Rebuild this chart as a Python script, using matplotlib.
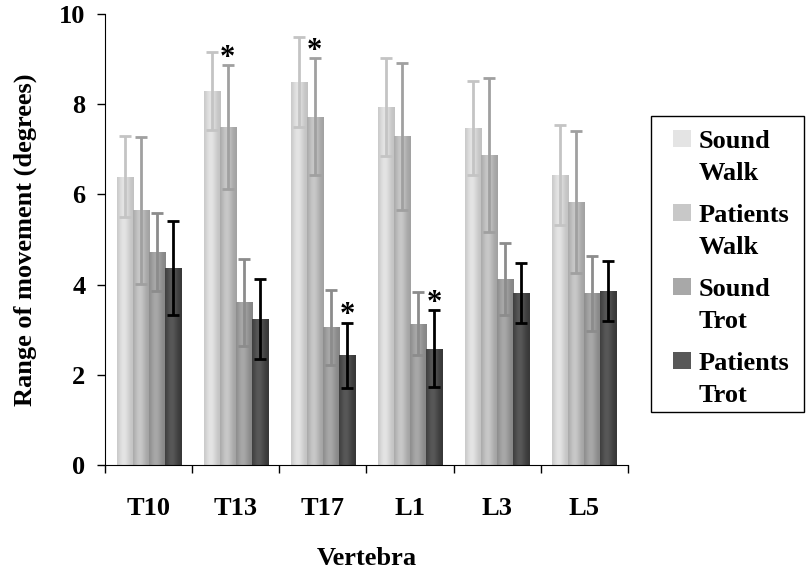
import numpy as np
import matplotlib
matplotlib.use('Agg')
import matplotlib.pyplot as plt
from matplotlib.patches import Rectangle
from matplotlib.colors import LinearSegmentedColormap

vertebrae = ['T10', 'T13', 'T17', 'L1', 'L3', 'L5']
series = ['Sound\nWalk', 'Patients\nWalk', 'Sound\nTrot', 'Patients\nTrot']

sound_walk = [6.39, 8.29, 8.49, 7.94, 7.47, 6.43]
sound_walk_err = [0.90, 0.87, 1.00, 1.08, 1.05, 1.10]
patients_walk = [5.65, 7.49, 7.72, 7.29, 6.87, 5.83]
patients_walk_err = [1.63, 1.37, 1.30, 1.63, 1.70, 1.57]
sound_trot = [4.72, 3.61, 3.06, 3.13, 4.12, 3.81]
sound_trot_err = [0.87, 0.96, 0.83, 0.70, 0.80, 0.83]
patients_trot = [4.37, 3.24, 2.44, 2.58, 3.81, 3.86]
patients_trot_err = [1.05, 0.88, 0.72, 0.85, 0.67, 0.66]

# (series index, vertebra index) with a significance star
stars = [(1, 1), (1, 2), (3, 2), (3, 3)]

values = [sound_walk, patients_walk, sound_trot, patients_trot]
errors = [sound_walk_err, patients_walk_err, sound_trot_err, patients_trot_err]
# bar gradient: (edge colour, centre colour), error bar colour
edge_cols = ['#c2c2c2', '#a2a2a2', '#868686', '#383838']
mid_cols = ['#e4e4e4', '#c8c8c8', '#a8a8a8', '#585858']
err_cols = ['#c4c4c4', '#a0a0a0', '#8c8c8c', '#000000']

plt.rcParams['font.family'] = ['Liberation Serif', 'DejaVu Serif']
plt.rcParams['font.weight'] = 'bold'
FS = 19

W, H = 808, 575
fig = plt.figure(figsize=(W / 100, H / 100), dpi=100)
ax = fig.add_axes([0.130, 0.191, 0.647, 0.785])

x = np.arange(len(vertebrae))
w = 0.184
grad = np.linspace(0, 1, 64)
grad = np.vstack([np.exp(-((grad - 0.4) / 0.35) ** 2)] * 2)

for i in range(4):
    pos = x - 1.5 * w + i * w
    bars = ax.bar(pos, values[i], width=w, color=mid_cols[i], zorder=2)
    cmap = LinearSegmentedColormap.from_list('g%d' % i, [edge_cols[i], mid_cols[i]])
    for b in bars:
        im = ax.imshow(grad, cmap=cmap, aspect='auto', zorder=2.5,
                       extent=[b.get_x(), b.get_x() + b.get_width(), 0, b.get_height()])
        im.set_clip_path(b)
    ax.errorbar(pos, values[i], yerr=errors[i], fmt='none', ecolor=err_cols[i],
                elinewidth=2, capsize=4.5, capthick=2, zorder=3)

for i, j in stars:
    pos = x[j] - 1.5 * w + i * w
    ax.text(pos, values[i][j] + errors[i][j] - 0.02, '*', ha='center', va='baseline',
            fontsize=22, fontweight='bold')

ax.set_xlim(-0.5, len(vertebrae) - 0.5)
ax.set_ylim(0, 10)
ax.set_yticks([0, 2, 4, 6, 8, 10])
ax.set_xticks(x)
ax.set_xticklabels(vertebrae)
ax.set_xticks(np.arange(-0.5, len(vertebrae)), minor=True)
ax.tick_params(axis='x', which='major', length=0, pad=23, labelsize=FS)
ax.tick_params(axis='x', which='minor', length=6, width=1, direction='out')
ax.tick_params(axis='y', length=6, width=1, labelsize=FS, pad=8)
for s in ['top', 'right']:
    ax.spines[s].set_visible(False)
ax.set_ylabel('Range of movement (degrees)', fontsize=FS, fontweight='bold', labelpad=16)
ax.set_xlabel('Vertebra', fontsize=FS, fontweight='bold', labelpad=19)

# legend drawn by hand: square aligned with first line of each label
fig.patches.append(Rectangle((651 / W, 1 - 412 / H), 153 / W, 296 / H, fill=False,
                             edgecolor='black', lw=1, transform=fig.transFigure))
for k, name in enumerate(series):
    base = 148 + 74 * k
    fig.patches.append(Rectangle((673 / W, 1 - (base - 1) / H), 18 / W, 17 / H,
                                 facecolor=mid_cols[k], edgecolor='none',
                                 transform=fig.transFigure))
    for n, line in enumerate(name.split('\n')):
        fig.text(699 / W, 1 - (base + 32 * n) / H, line, fontsize=FS,
                 fontweight='bold', va='baseline', ha='left')

fig.savefig('out.png', dpi=100)
